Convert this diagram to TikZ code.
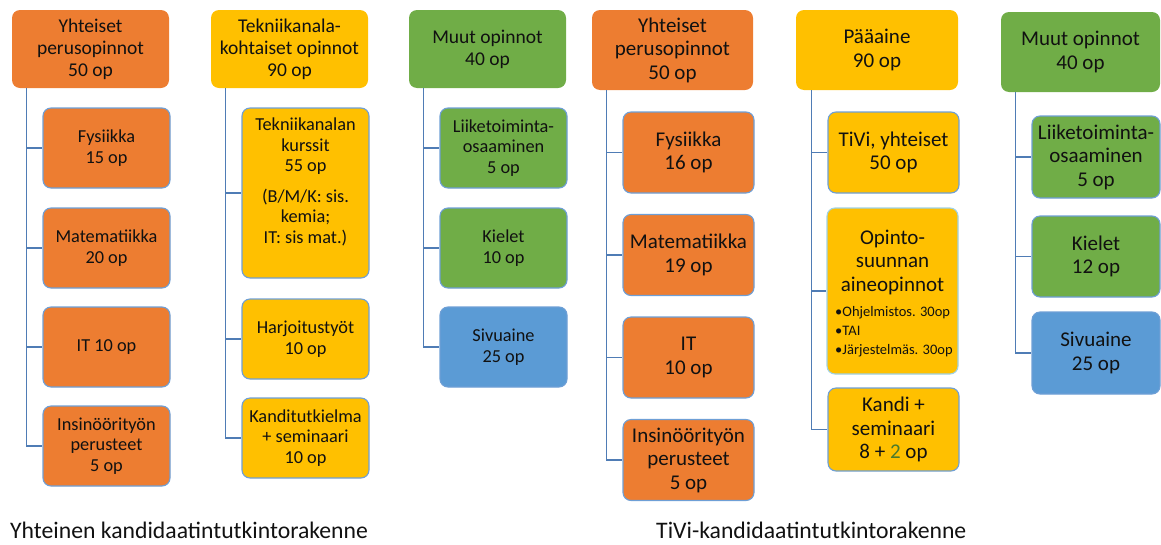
\documentclass[tikz,border=0pt]{standalone}
\usepackage{fontspec}
\setmainfont{Carlito}
\usetikzlibrary{calc}
\definecolor{cOr}{HTML}{ED7D31}
\definecolor{cYe}{HTML}{FFC000}
\definecolor{cGr}{HTML}{70AD47}
\definecolor{cBl}{HTML}{5B9BD5}
\definecolor{cLine}{HTML}{4F7CB5}
\definecolor{cBord}{HTML}{6E9FD6}
\definecolor{cLight}{HTML}{9FD2E6}
\definecolor{cDk}{HTML}{4A7A2C}
\definecolor{cTxt}{HTML}{111111}
\begin{document}
\begin{tikzpicture}[x=1pt,y=-1pt,
  box/.style={rounded corners=8pt, inner sep=0pt, align=center, text=cTxt},
  head/.style={box, draw=none},
  sub/.style={box, draw=cBord, line width=1.1pt},
  wh/.style 2 args={minimum width=#1, minimum height=#2},
  conn/.style={draw=cLine, line width=1.2pt},
  fA/.style={font=\fontsize{19.5}{22}\selectfont},
  fB/.style={font=\fontsize{18.3}{20.5}\selectfont},
  fC/.style={font=\fontsize{21}{23.5}\selectfont},
  fS/.style={font=\fontsize{14.5}{19}\selectfont},
  fCap/.style={font=\fontsize{23.7}{28}\selectfont, text=cTxt},
]
\useasboundingbox (0,0) rectangle (1161,544);

% ---------- Column 1 ----------
\node[head, fA, fill=cOr, wh={157}{78}] (h1) at (90.5,49) {Yhteiset\\perusopinnot\\50 op};
\node[sub, fB, fill=cOr, wh={127}{80}] (s11) at (106.5,148) {Fysiikka\\15 op};
\node[sub, fB, fill=cOr, wh={127}{80}] (s12) at (106.5,248) {Matematiikka\\20 op};
\node[sub, fB, fill=cOr, wh={127}{80}] (s13) at (106.5,347) {IT 10 op};
\node[sub, fB, fill=cOr, wh={127}{80}] (s14) at (106.5,446) {Insinöörityön\\perusteet\\5 op};

% ---------- Column 2 ----------
\node[head, fA, fill=cYe, wh={157}{78}] (h2) at (289.5,49) {Tekniikanala-\\kohtaiset opinnot\\90 op};
\node[sub, fill=cYe, wh={127}{170}] (s21) at (305.5,193) {};
\node[fB, align=center, text=cTxt, inner sep=0pt] (s21t) at (305.5,182) {Tekniikanalan\\kurssit\\55 op\\[10pt](B/M/K: sis.\\kemia;\\IT: sis mat.)};
\node[sub, fB, fill=cYe, wh={127}{80}] (s22) at (305.5,339) {Harjoitustyöt\\10 op};
\node[sub, fB, fill=cYe, wh={127}{80}] (s23) at (305.5,438) {Kanditutkielma\\+ seminaari\\10 op};

% ---------- Column 3 ----------
\node[head, fA, fill=cGr, wh={157}{78}] (h3) at (487.5,49) {Muut opinnot\\40 op};
\node[sub, fB, fill=cGr, wh={127}{80}] (s31) at (503.5,148) {Liiketoiminta-\\osaaminen\\5 op};
\node[sub, fB, fill=cGr, wh={127}{80}] (s32) at (503.5,248) {Kielet\\10 op};
\node[sub, fB, fill=cBl, wh={127}{80}] (s33) at (503.5,347) {Sivuaine\\25 op};

% ---------- Column 4 ----------
\node[head, fC, fill=cOr, wh={161}{80}] (h4) at (672.5,50) {Yhteiset\\perusopinnot\\50 op};
\node[sub, fC, fill=cOr, wh={131}{81}] (s41) at (688.5,152.5) {Fysiikka\\16 op};
\node[sub, fC, fill=cOr, wh={131}{81}] (s42) at (688.5,255) {Matematiikka\\19 op};
\node[sub, fC, fill=cOr, wh={131}{81}] (s43) at (688.5,357.5) {IT\\10 op};
\node[sub, fC, fill=cOr, wh={131}{81}] (s44) at (688.5,460) {Insinöörityön\\perusteet\\5 op};

% ---------- Column 5 ----------
\node[head, fC, fill=cYe, wh={162}{80}] (h5) at (877,50) {Pääaine\\90 op};
\node[sub, fC, fill=cYe, wh={131}{81}] (s51) at (893.5,152.5) {TiVi, yhteiset\\50 op};
\node[box, draw=cLight, line width=1.1pt, fill=cYe, wh={131}{166}] (s52) at (892.5,291) {};
\node[fC, align=center, text=cTxt, inner sep=0pt] (s52t) at (892.5,262) {Opinto-\\suunnan\\aineopinnot};
\node[fS, align=left, anchor=west, text=cTxt, inner sep=0pt] (s52b) at (835,332) {\textbullet Ohjelmistos. 30op\\\textbullet TAI\\\textbullet Järjestelmäs. 30op};
\node[sub, fC, fill=cYe, wh={131}{83}] (s53) at (893.5,429.5) {Kandi +\\seminaari\\8 + \textcolor{cDk}{2} op};

% ---------- Column 6 ----------
\node[head, fC, fill=cGr, wh={159}{80}] (h6) at (1080.5,52) {Muut opinnot\\40 op};
\node[sub, fC, fill=cGr, wh={128}{82}] (s61) at (1096,157) {Liiketoiminta-\\osaaminen\\5 op};
\node[sub, fC, fill=cGr, wh={128}{81}] (s62) at (1096,256.5) {Kielet\\12 op};
\node[sub, fC, fill=cBl, wh={128}{82}] (s63) at (1096,353) {Sivuaine\\25 op};

% ---------- Connectors ----------
\coordinate (v1) at ($(h1.south west)+(15,0)$);
\coordinate (v2) at ($(h2.south west)+(15,0)$);
\coordinate (v3) at ($(h3.south west)+(15,0)$);
\coordinate (v4) at ($(h4.south west)+(15,0)$);
\coordinate (v5) at ($(h5.south west)+(16,0)$);
\coordinate (v6) at ($(h6.south west)+(15,0)$);
\foreach \s in {s11,s12,s13,s14} \draw[conn] (v1) |- (\s.west);
\foreach \s in {s21,s22,s23} \draw[conn] (v2) |- (\s.west);
\foreach \s in {s31,s32,s33} \draw[conn] (v3) |- (\s.west);
\foreach \s in {s41,s42,s43,s44} \draw[conn] (v4) |- (\s.west);
\foreach \s in {s51,s52,s53} \draw[conn] (v5) |- (\s.west);
\foreach \s in {s61,s62,s63} \draw[conn] (v6) |- (\s.west);

% ---------- Captions ----------
\node[fCap, anchor=base west, inner sep=0pt] (cap1) at (10,538) {Yhteinen kandidaatintutkintorakenne};
\node[fCap, anchor=base west, inner sep=0pt] (cap2) at (656,538) {TiVi-kandidaatintutkintorakenne};
\end{tikzpicture}
\end{document}
